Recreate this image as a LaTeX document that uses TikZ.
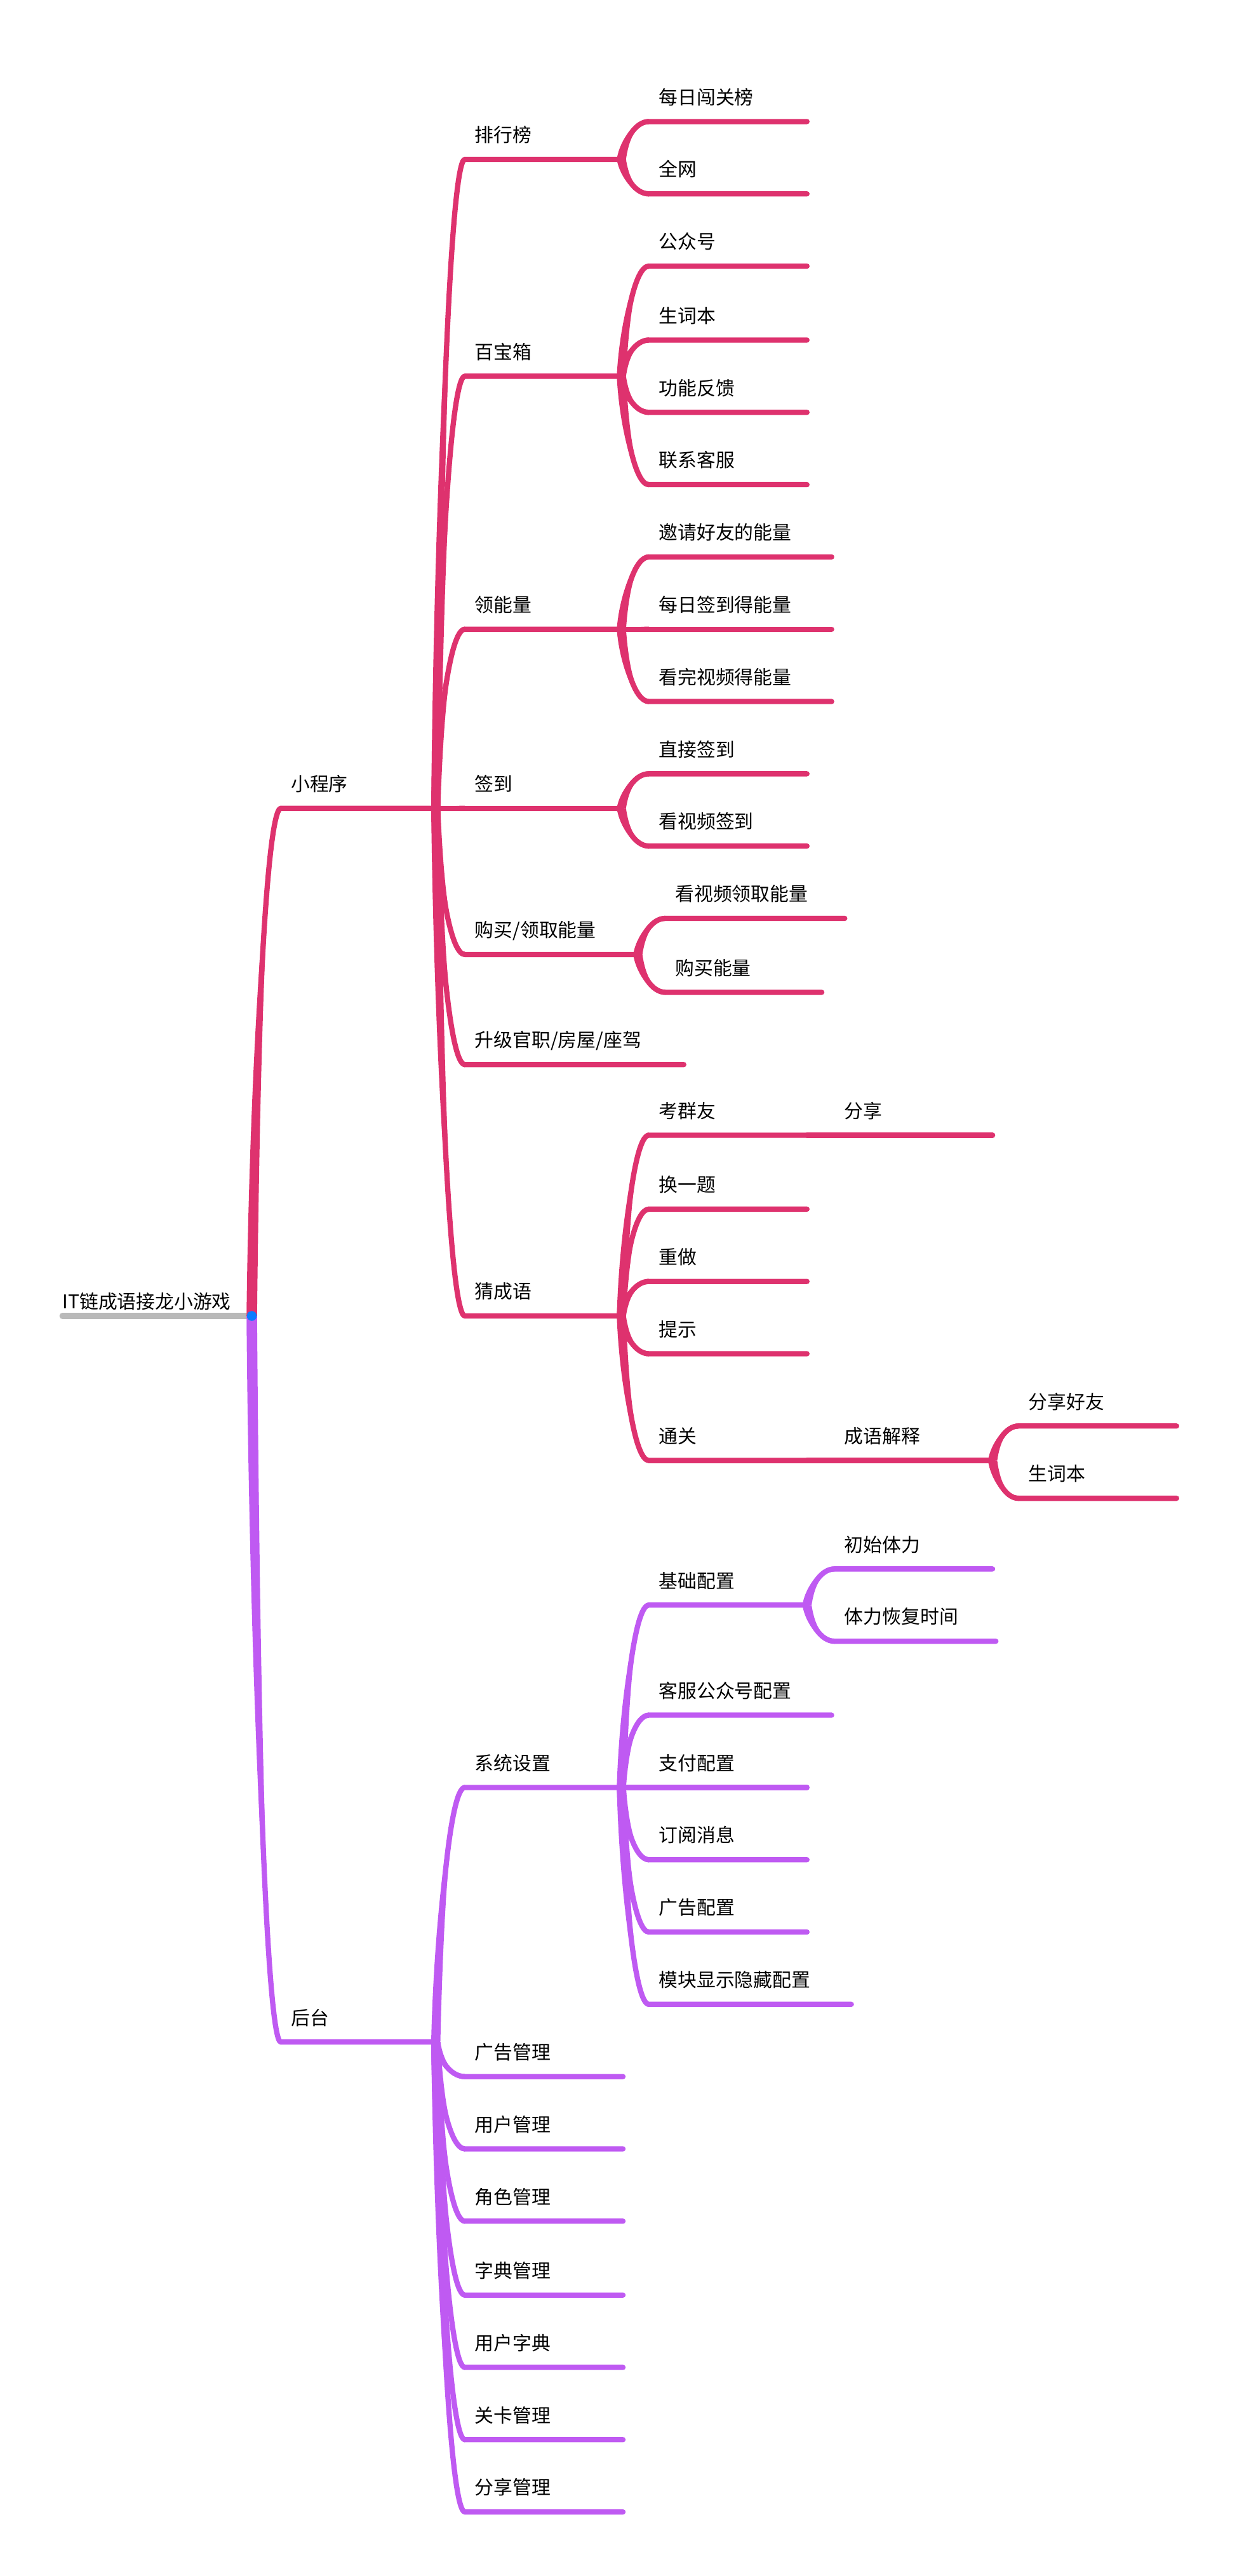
\documentclass[tikz,border=0pt]{standalone}
\usepackage{fontspec}
\setmainfont{Noto Sans CJK SC}
\usetikzlibrary{calc}
\definecolor{rosebr}{HTML}{DE326E}
\definecolor{violbr}{HTML}{BF5AF2}
\definecolor{rootgrey}{HTML}{B9B9B9}
\definecolor{hubblue}{HTML}{0A7CFF}

\begin{document}
\begin{tikzpicture}[
  x=0.5mm, y=-0.5mm,
  font=\fontsize{16.4pt}{20pt}\selectfont,
  topic/.style={anchor=south west, inner xsep=3mm, inner ysep=0pt, text height=5.2mm, text depth=5.2mm, align=left, text width=#1},
  topic/.default=42mm,
  rose/.style={draw=rosebr, line width=1.6mm, line cap=round, line join=round},
  viol/.style={draw=violbr, line width=1.6mm, line cap=round, line join=round},
  branch/.style={to path={let \p1=(\tikztostart), \p2=(\tikztotarget) in
    .. controls ({\x1+0.1*(\x2-\x1)},{\y1+0.5*(\y2-\y1)}) and ({0.5*(\x1+\x2)},\y2) .. (\tikztotarget)}},
  % thick start, thin end
  taper/.style={to path={let \p1=(\tikztostart), \p2=(\tikztotarget), \n1={sign(\y2-\y1)} in
    ({\x1-\n1*#1},\y1) .. controls ({\x1+0.1*(\x2-\x1)-\n1*#1},{\y1+0.5*(\y2-\y1)}) and ({0.5*(\x1+\x2)},{\y2+0.8mm}) .. ({\x2},{\y2+0.8mm})
    -- ({\x2},{\y2-0.8mm}) .. controls ({0.5*(\x1+\x2)},{\y2-0.8mm}) and ({\x1+0.1*(\x2-\x1)+\n1*#1},{\y1+0.5*(\y2-\y1)}) .. ({\x1+\n1*#1},\y1) -- cycle}},
  taper/.default=1.4mm
]
\useasboundingbox (0,0) rectangle (753,1568);

% --- Root ---
\node[topic=57.5mm, inner xsep=0pt, text depth=2.2mm] (root) at (38,801) {IT链成语接龙小游戏};
\node[topic=41mm] (xcx) at (171,492) {小程序};
\node[topic=41mm] (ht) at (171,1243) {后台};

% --- 小程序 ---
\node[topic=41.5mm] (phb) at (283,97) {排行榜};
\node[topic=41.5mm] (bbx) at (283,229) {百宝箱};
\node[topic=41.5mm] (lnl) at (283,383) {领能量};
\node[topic=41.5mm] (qd) at (283,492) {签到};
\node[topic=46.5mm] (gm) at (283,581) {购买/领取能量};
\node[topic=60.5mm] (sj) at (283,648) {升级官职/房屋/座驾};
\node[topic=41.5mm] (ccy) at (283,801) {猜成语};

\node[topic] (mr) at (395,74) {每日闯关榜};
\node[topic] (qw) at (395,118) {全网};
\node[topic] (gzh) at (395,162) {公众号};
\node[topic] (scb) at (395,207) {生词本};
\node[topic] (gnfk) at (395,251) {功能反馈};
\node[topic] (lxkf) at (395,295) {联系客服};
\node[topic=49.5mm] (yq) at (395,339) {邀请好友的能量};
\node[topic=49.5mm] (mrqd) at (395,383) {每日签到得能量};
\node[topic=49.5mm] (kwsp) at (395,427) {看完视频得能量};
\node[topic] (zjqd) at (395,471) {直接签到};
\node[topic] (kspqd) at (395,515) {看视频签到};
\node[topic=48.5mm] (ksplq) at (405,559) {看视频领取能量};
\node[topic=41.5mm] (gmnl) at (405,604) {购买能量};
\node[topic] (kqy) at (395,691) {考群友};
\node[topic] (hyt) at (395,736) {换一题};
\node[topic] (cz) at (395,780) {重做};
\node[topic] (ts) at (395,824) {提示};
\node[topic] (tg) at (395,889) {通关};
\node[topic] (fx) at (508,691) {分享};
\node[topic] (cyjs) at (508,889) {成语解释};
\node[topic] (fxhy) at (620,868) {分享好友};
\node[topic] (scb2) at (620,912) {生词本};

% --- 后台 ---
\node[topic=41.5mm] (xtsz) at (283,1088) {系统设置};
\node[topic] (gggl) at (283,1264) {广告管理};
\node[topic] (yhgl) at (283,1308) {用户管理};
\node[topic] (jsgl) at (283,1352) {角色管理};
\node[topic] (zdgl) at (283,1397) {字典管理};
\node[topic] (yhzd) at (283,1441) {用户字典};
\node[topic] (gkgl) at (283,1485) {关卡管理};
\node[topic] (fxgl) at (283,1529) {分享管理};

\node[topic] (jcpz) at (395,977) {基础配置};
\node[topic=49.5mm] (kfpz) at (395,1044) {客服公众号配置};
\node[topic] (zfpz) at (395,1088) {支付配置};
\node[topic] (dyxx) at (395,1132) {订阅消息};
\node[topic] (ggpz) at (395,1176) {广告配置};
\node[topic=55.5mm] (mkpz) at (395,1220) {模块显示隐藏配置};
\node[topic] (cstl) at (508,955) {初始体力};
\node[topic=43mm] (tlhf) at (508,999) {体力恢复时间};

% connectors
\draw[rootgrey, line width=1.8mm, line cap=round] (root.south west) -- (root.south east);
\fill[rosebr] (root.south east) to[taper=1.6mm] (xcx.south west);
\draw[rose] (root.south east) to[branch] (xcx.south west) -- (xcx.south east);
\fill[violbr] (root.south east) to[taper=1.6mm] (ht.south west);
\draw[viol] (root.south east) to[branch] (ht.south west) -- (ht.south east);

\foreach \p/\c in {xcx/phb,xcx/bbx,xcx/lnl,xcx/qd,xcx/gm,xcx/sj,xcx/ccy,
    phb/mr,phb/qw,bbx/gzh,bbx/scb,bbx/gnfk,bbx/lxkf,lnl/yq,lnl/mrqd,lnl/kwsp,
    qd/zjqd,qd/kspqd,gm/ksplq,gm/gmnl,ccy/kqy,ccy/hyt,ccy/cz,ccy/ts,ccy/tg,
    kqy/fx,tg/cyjs,cyjs/fxhy,cyjs/scb2}{
  \fill[rosebr] (\p.south east) to[taper] (\c.south west);
  \draw[rose] (\p.south east) to[branch] (\c.south west) -- (\c.south east);
}

\foreach \p/\c in {ht/xtsz,ht/gggl,ht/yhgl,ht/jsgl,ht/zdgl,ht/yhzd,ht/gkgl,ht/fxgl,
    xtsz/jcpz,xtsz/kfpz,xtsz/zfpz,xtsz/dyxx,xtsz/ggpz,xtsz/mkpz,jcpz/cstl,jcpz/tlhf}{
  \fill[violbr] (\p.south east) to[taper] (\c.south west);
  \draw[viol] (\p.south east) to[branch] (\c.south west) -- (\c.south east);
}

\node[circle, fill=hubblue, inner sep=0pt, minimum size=3mm] (hub) at (root.south east) {};

\end{tikzpicture}
\end{document}
